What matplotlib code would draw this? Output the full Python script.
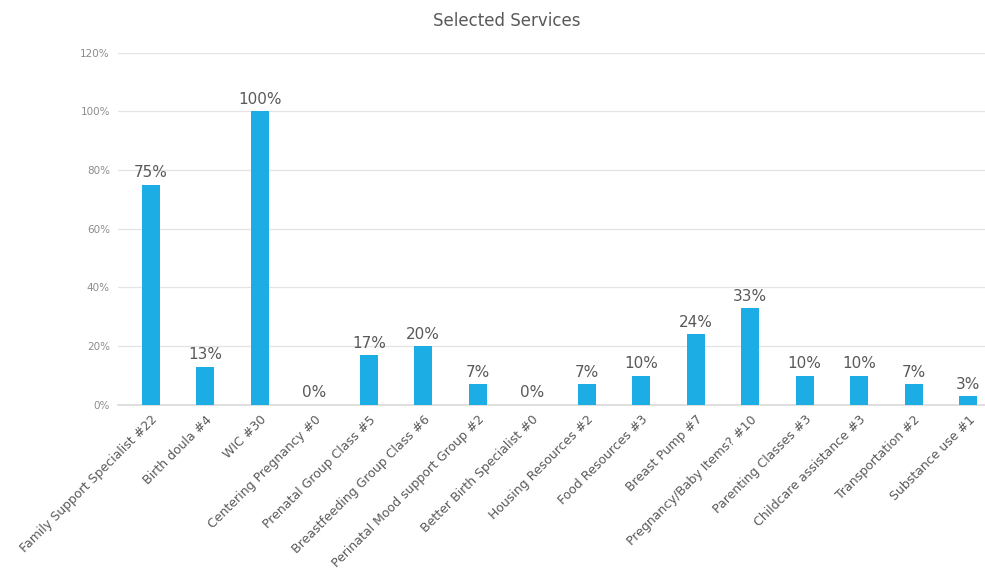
import matplotlib.pyplot as plt
import numpy as np

plt.rcParams['font.family'] = ['DejaVu Sans']

# Data
categories = [
    "Family Support Specialist #22", "Birth doula #4", "WIC #30",
    "Centering Pregnancy #0", "Prenatal Group Class #5",
    "Breastfeeding Group Class #6", "Perinatal Mood support Group #2",
    "Better Birth Specialist #0", "Housing Resources #2", "Food Resources #3",
    "Breast Pump #7", "Pregnancy/Baby Items? #10", "Parenting Classes #3",
    "Childcare assistance #3", "Transportation #2", "Substance use #1",
]
values = [75, 13, 100, 0, 17, 20, 7, 0, 7, 10, 24, 33, 10, 10, 7, 3]
yticks = [0, 20, 40, 60, 80, 100, 120]

BAR_COLOR = "#1CADE4"
TEXT_GRAY = "#595959"

fig = plt.figure(figsize=(9.85, 5.8), dpi=100)
ax = fig.add_axes([0.12, 0.302, 0.88, 0.607])

x = np.arange(len(categories))
ax.bar(x, values, width=0.33, color=BAR_COLOR, zorder=3)

for xi, v in zip(x, values):
    ax.text(xi, v + 1.5, f"{v}%", ha="center", va="bottom",
            fontsize=11, color=TEXT_GRAY)

ax.set_ylim(0, 120)
ax.set_xlim(-0.6, 15.31)
ax.set_yticks(yticks)
ax.set_yticklabels([f"{t}%" for t in yticks], fontsize=7.5, color="#8c8c8c")
ax.set_xticks(x)
ax.set_xticklabels(categories, rotation=45, ha="right", rotation_mode="anchor",
                   fontsize=9, color=TEXT_GRAY)
ax.tick_params(axis="both", length=0)
ax.tick_params(axis="y", pad=6)
ax.tick_params(axis="x", pad=6)

ax.grid(axis="y", color="#e3e3e3", linewidth=0.9, zorder=0)
for s in ["top", "right", "left"]:
    ax.spines[s].set_visible(False)
ax.spines["bottom"].set_color("#d9d9d9")
ax.spines["bottom"].set_linewidth(1.2)

fig.text(0.514, 0.963, "Selected Services", ha="center", va="center",
         fontsize=12, color=TEXT_GRAY)

fig.savefig("out.png", dpi=100)
